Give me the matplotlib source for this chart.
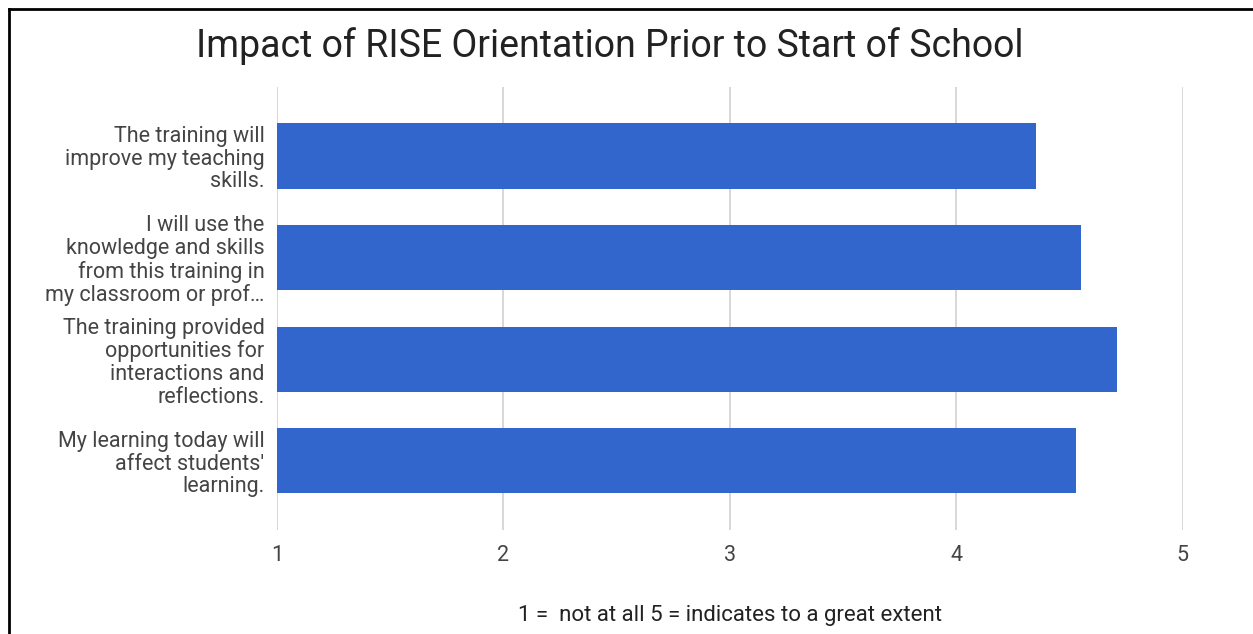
import matplotlib.pyplot as plt
from matplotlib.lines import Line2D

plt.rcParams['font.family'] = ['Roboto', 'DejaVu Sans']

# Survey statements (wrapped as shown) and mean ratings
statements = [
    'The training will\nimprove my teaching\nskills.',
    'I will use the\nknowledge and skills\nfrom this training in\nmy classroom or prof…',
    'The training provided\nopportunities for\ninteractions and\nreflections.',
    "My learning today will\naffect students'\nlearning.",
]
ratings = [4.35, 4.55, 4.71, 4.53]
x_ticks = [1, 2, 3, 4, 5]

fig = plt.figure(figsize=(12.53, 6.34), dpi=100)
ax = fig.add_axes([0.221, 0.164, 0.723, 0.699])

y = range(len(statements))
ax.barh(y, [r - 1 for r in ratings], left=1, height=0.64, color='#3366cc', zorder=3)

ax.set_xlim(1, 5)
ax.set_ylim(3.68, -0.68)
ax.set_xticks(x_ticks)
ax.set_xticklabels([str(t) for t in x_ticks])
ax.set_yticks(list(y))
ax.set_yticklabels(statements, fontsize=15.5, color='#444444', linespacing=1.1)
ax.tick_params(axis='y', length=0, pad=9)
ax.tick_params(axis='x', length=0, pad=11, labelsize=15.5, labelcolor='#444444')
ax.grid(axis='x', color='#d4d4d4', linewidth=1.3, zorder=0)
for s in ax.spines.values():
    s.set_visible(False)

ax.set_xlabel('1 =  not at all 5 = indicates to a great extent',
              fontsize=16, color='#222222', labelpad=28)

fig.text(610 / 1253, 1 - 46 / 634, 'Impact of RISE Orientation Prior to Start of School',
         ha='center', va='center', fontsize=27, color='#222222')

# screenshot frame (left and top edges visible)
fx, fy = 8.5 / 1253, 1 - 8.5 / 634
fig.add_artist(Line2D([fx, fx], [0, fy], transform=fig.transFigure, color='black', linewidth=2))
fig.add_artist(Line2D([fx, 1], [fy, fy], transform=fig.transFigure, color='black', linewidth=2))

fig.savefig('out.png', dpi=100)
